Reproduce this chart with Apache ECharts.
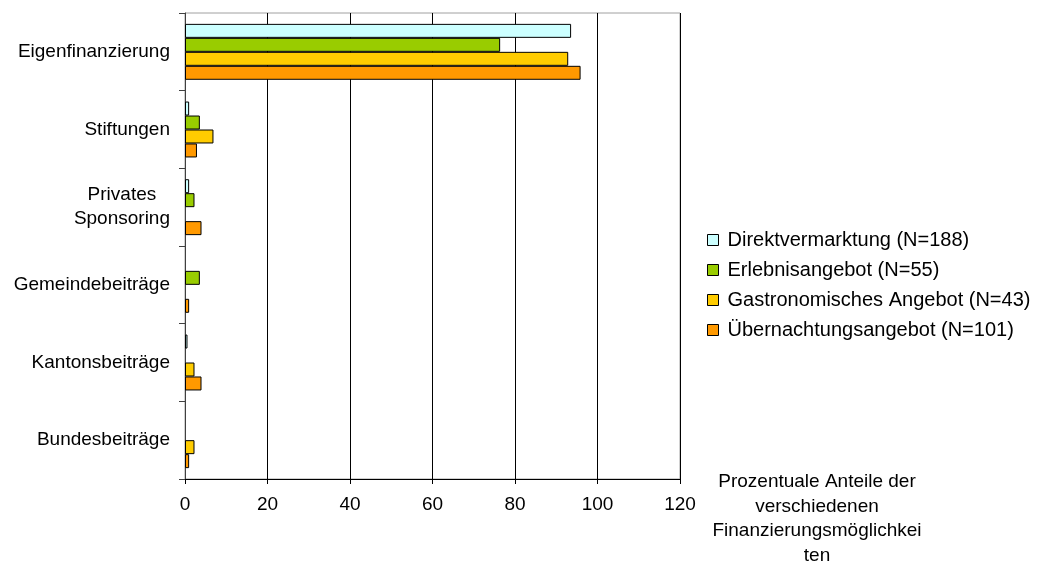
<!DOCTYPE html>
<html>
<head>
<meta charset="utf-8">
<script src="https://cdn.jsdelivr.net/npm/echarts@6/dist/echarts.min.js"></script>
<style>html,body{margin:0;padding:0;background:#fff;}#c{width:1044px;height:561px;}</style>
</head>
<body>
<div id="c"></div>
<script>
const categories = ['Eigenfinanzierung', 'Stiftungen', 'Privates Sponsoring', 'Gemeindebeiträge', 'Kantonsbeiträge', 'Bundesbeiträge'];
const seriesNames = ['Direktvermarktung (N=188)', 'Erlebnisangebot (N=55)', 'Gastronomisches Angebot (N=43)', 'Übernachtungsangebot (N=101)'];
const direktvermarktung = [93.6, 1.0, 1.0, 0, 0.6, 0];
const erlebnisangebot = [76.4, 3.6, 2.3, 3.6, 0, 0];
const gastronomie = [92.9, 6.9, 0, 0, 2.3, 2.3];
const uebernachtung = [95.9, 2.9, 4.0, 1.0, 4.0, 1.0];
const xTicks = [0, 20, 40, 60, 80, 100, 120];
const axisTitle = 'Prozentuale Anteile der\nverschiedenen\nFinanzierungsmöglichkei\nten';

const colors = ['#CCFFFF', '#99CC00', '#FFCC00', '#FF9900'];
const values = [direktvermarktung, erlebnisangebot, gastronomie, uebernachtung];
const font = 'Liberation Sans, Arial, sans-serif';
const FS = 19;

const chart = echarts.init(document.getElementById('c'), null, {renderer: 'canvas'});
chart.setOption({
  animation: false,
  backgroundColor: '#ffffff',
  textStyle: {fontFamily: font},
  grid: {left: 185, right: 364, top: 13, bottom: 82, show: true, borderColor: '#a0a0a0', borderWidth: 1},
  legend: {
    orient: 'vertical', left: 707, top: 230, itemGap: 10, padding: 0,
    itemWidth: 11, itemHeight: 11, icon: 'rect',
    data: seriesNames,
    itemStyle: {borderColor: '#000', borderWidth: 1},
    textStyle: {fontSize: 20, color: '#000', fontFamily: font, padding: [0, 0, 0, 4]}
  },
  xAxis: {
    type: 'value', min: xTicks[0], max: xTicks[xTicks.length - 1], interval: 20,
    axisLine: {show: true, lineStyle: {color: '#000', width: 1}},
    axisTick: {show: true, length: 5, lineStyle: {color: '#000'}},
    axisLabel: {fontSize: FS, color: '#000', margin: 16, fontFamily: font},
    splitLine: {show: true, lineStyle: {color: '#000', width: 1}}
  },
  yAxis: {
    type: 'category', data: categories, inverse: true,
    axisLine: {show: true, lineStyle: {color: '#404040', width: 1}},
    axisTick: {show: true, length: 6, lineStyle: {color: '#404040'}},
    axisLabel: {
      fontSize: FS, color: '#000', margin: 15, fontFamily: font,
      formatter: function (v) {
        if (v === 'Privates Sponsoring') return '{c|Privates}\n{c|Sponsoring}';
        return v;
      },
      rich: {c: {align: 'center', fontSize: FS, lineHeight: 24, fontFamily: font, color: '#000'}}
    }
  },
  graphic: [{
    type: 'text', x: 817, top: 470,
    style: {text: axisTitle, fontSize: FS, fontFamily: font, fill: '#000', textAlign: 'center', lineHeight: 24.5}
  }],
  series: seriesNames.map((n, i) => ({
    name: n, type: 'bar', data: values[i].map(v => v === 0 ? '-' : v),
    barGap: '0%', barCategoryGap: '28%',
    itemStyle: {color: colors[i], borderColor: '#000', borderWidth: 1}
  }))
});
</script>
</body>
</html>
